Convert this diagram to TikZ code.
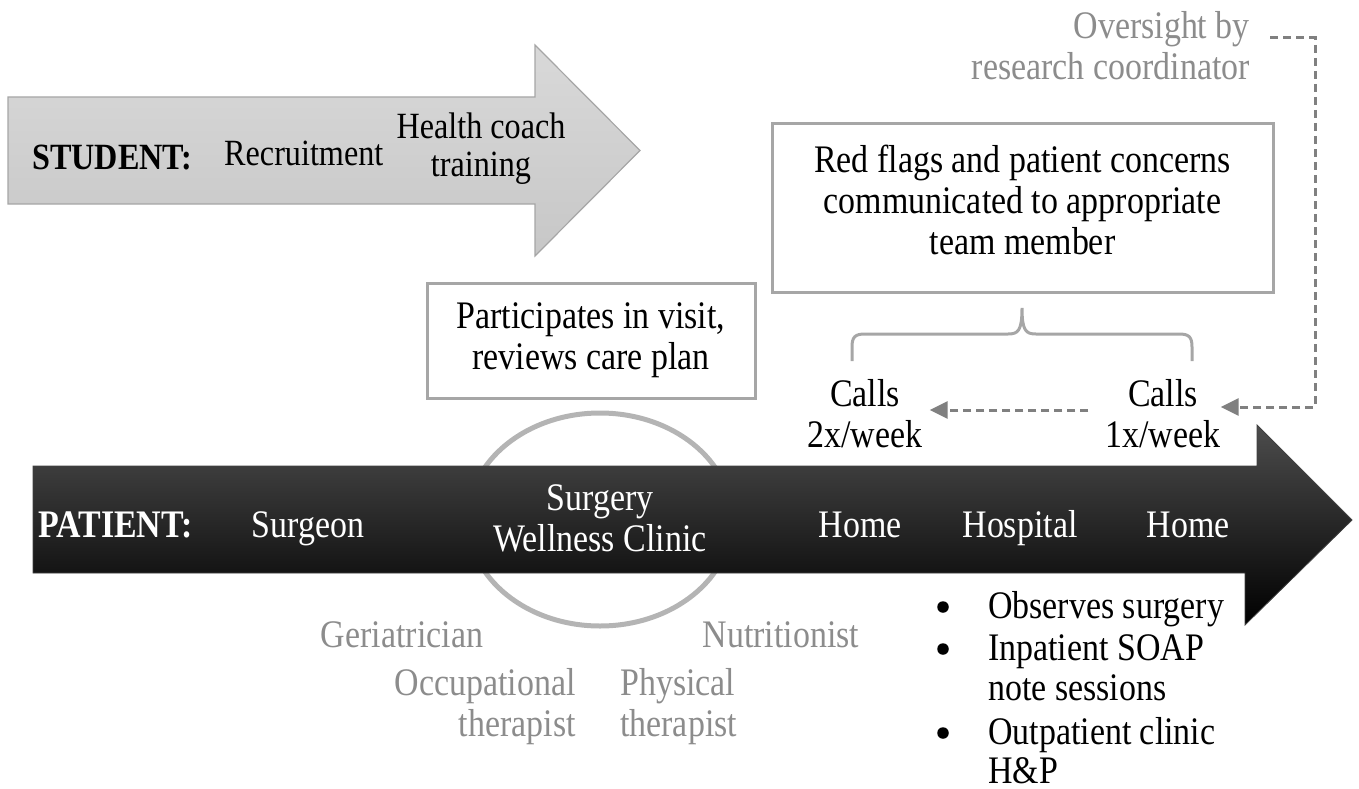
\documentclass[tikz,border=0pt]{standalone}
\usepackage{fontspec}
\setmainfont{Liberation Serif}[FakeStretch=0.87]
\usetikzlibrary{arrows.meta,shapes.geometric}
\definecolor{boxgray}{HTML}{A6A6A6}
\definecolor{txtgray}{HTML}{8C8C8C}
\definecolor{dashgray}{HTML}{808080}
\definecolor{ringgray}{HTML}{B4B4B4}
\begin{document}
\begin{tikzpicture}[x=1pt,y=-1pt,
  every node/.style={inner sep=0pt, font=\fontsize{39}{41}\selectfont},
  small/.style={font=\fontsize{37}{38}\selectfont},
  frame/.style={draw=boxgray, line width=3pt, fill=white},
  grey/.style={text=txtgray},
  onblack/.style={text=white},
  dasharrow/.style={draw=dashgray, line width=3pt, dash pattern=on 8pt off 5pt,
    -{Triangle[length=18pt,width=17pt]}},
  bracepen/.style={draw=boxgray, line width=3pt},
  bulletmark/.style={circle, fill=black, minimum size=11.5pt},
  itemline/.style={anchor=base west}
]
\useasboundingbox (0,0) rectangle (1359,789);

% student timeline arrow
\shadedraw[top color=gray!30, bottom color=gray!44, draw=boxgray, line width=1.2pt]
  (8,97) -- (535,97) -- (535,45) -- (640,150.5) -- (535,256) -- (535,204) -- (8,204) -- cycle;
\node[small, anchor=base west] (student) at (32,169) {\textbf{STUDENT:}};
\node[small, anchor=base west] (recruit) at (224,165) {Recruitment};
\node[small, align=center] (coach) at (481,149) {Health coach\\training};

% oversight
\node[grey, align=right, anchor=east] (oversight) at (1250,46) {Oversight by\\research coordinator};
\coordinate (ovstart) at (1270,38);
\coordinate (ovcorner) at (1315,407);

% communication box and brace
\node[frame, minimum width=501pt, minimum height=168pt] (flags) at (1022.5,208) {};
\node[align=center] (flagstxt) at (1022.5,200) {Red flags and patient concerns\\communicated to appropriate\\team member};
\draw[bracepen] (852,361) -- (852,347) .. controls (852,337) and (855,334) .. (865,334)
  -- (1008,334) .. controls (1018,334) and (1022,331) .. (1022,308)
  .. controls (1022,331) and (1026,334) .. (1036,334) -- (1179,334)
  .. controls (1189,334) and (1192,337) .. (1192,347) -- (1192,361);

% calls
\node[align=center] (calls2) at (865,414) {Calls\\2x/week};
\node[align=center] (calls1) at (1163,414) {Calls\\1x/week};
\draw[dasharrow] (ovstart) -- (ovstart -| ovcorner) -- (ovcorner) -- (calls1.east |- ovcorner);
\draw[dasharrow] ([xshift=-17pt]calls1.west |- 0,410) -- ([xshift=7pt]calls2.east |- 0,410);

% clinic visit
\node[frame, minimum width=328pt, minimum height=115pt] (visit) at (591,340.5) {};
\node[align=center] (visittxt) at (591,340) {Participates in visit,\\reviews care plan};
\node[draw=ringgray, line width=5pt, ellipse, minimum width=264pt, minimum height=213pt] (ring) at (600,519.5) {};

% patient timeline arrow
\shadedraw[top color=black!70, middle color=black, bottom color=black, draw=black!75, line width=0.8pt]
  (33,466) -- (1257,466) -- (1257,425) -- (1352,520) -- (1245,625) -- (1245,573) -- (33,573) -- cycle;
\node[onblack, anchor=base east] (patient) at (193,537) {\textbf{PATIENT:}};
\node[onblack, anchor=base] (surgeon) at (308,537) {Surgeon};
\node[onblack, align=center] (clinic) at (600,518) {Surgery\\Wellness Clinic};
\node[onblack, anchor=base] (home1) at (860,537) {Home};
\node[onblack, anchor=base] (hospital) at (1020,537) {Hospital};
\node[onblack, anchor=base] (home2) at (1188,537) {Home};

% clinic team
\node[grey, anchor=base] (geri) at (402,647) {Geriatrician};
\node[grey, anchor=base] (nutri) at (781,647) {Nutritionist};
\node[grey, align=right, anchor=east] (occ) at (576,707) {Occupational\\therapist};
\node[grey, align=left, anchor=west] (phys) at (620,707) {Physical\\therapist};

% hospital activities
\node[bulletmark] (b1) at (943,607) {};
\node[bulletmark] (b2) at (943,649) {};
\node[bulletmark] (b3) at (943,733) {};
\node[itemline] (obs) at (988,618) {Observes surgery};
\node[itemline] (soap1) at (988,660) {Inpatient SOAP};
\node[itemline] (soap2) at (988,700) {note sessions};
\node[itemline] (outp1) at (988,744) {Outpatient clinic};
\node[itemline] (outp2) at (988,783) {H\&P};
\end{tikzpicture}
\end{document}
